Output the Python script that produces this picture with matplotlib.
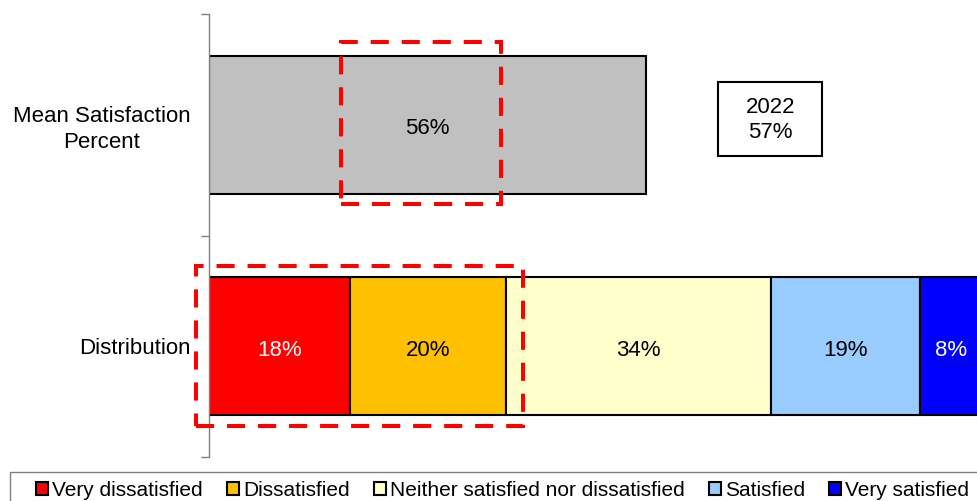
import matplotlib
matplotlib.use("Agg")
import matplotlib.pyplot as plt
from matplotlib.patches import Rectangle, Patch

plt.rcParams["font.family"] = ["Liberation Sans", "DejaVu Sans"]

# data
categories = ["Very dissatisfied", "Dissatisfied", "Neither satisfied nor dissatisfied",
              "Satisfied", "Very satisfied"]
dist_values = [18, 20, 34, 19, 8]
dist_colors = ["#FF0000", "#FFC000", "#FFFFCC", "#99CCFF", "#0000FF"]
dist_text = ["white", "black", "black", "black", "white"]
mean_value = 56
row_labels = ["Distribution", "Mean Satisfaction\nPercent"]
prior_year = "2022"
prior_value = 57

FS = 16
LFS = 15

W, H = 977, 501
fig = plt.figure(figsize=(W / 100, H / 100), dpi=100)
ax = fig.add_axes([209 / W, 44 / H, 781 / W, 443 / H])


def bar_label(x, y, s, color="black"):
    # labels sit a touch below the bar centre, as in the original
    ax.annotate(s, (x, y), xytext=(0, -3), textcoords="offset points",
                ha="center", va="center", fontsize=FS, color=color)


bar_h = 0.625
# mean bar
ax.barh(1.5, mean_value, height=bar_h, color="#C0C0C0", edgecolor="black", linewidth=1.5)
bar_label(mean_value / 2, 1.5, f"{mean_value}%")

# distribution bars
left = 0
for v, c, tc in zip(dist_values, dist_colors, dist_text):
    ax.barh(0.5, v, left=left, height=bar_h, color=c, edgecolor="black", linewidth=1.5)
    bar_label(left + v / 2, 0.5, f"{v}%", tc)
    left += v

ax.set_xlim(0, 100)
ax.set_ylim(0, 2)
ax.set_yticks([0, 1, 2])
ax.set_yticklabels([])
ax.set_yticks([0.5, 1.5], minor=True)
ax.set_yticklabels(row_labels, minor=True, fontsize=FS, multialignment="center",
                   linespacing=1.3)
ax.tick_params(axis="y", which="major", length=6, width=1, color="#808080", direction="out")
ax.tick_params(axis="y", which="minor", length=0, pad=13.5)
ax.set_xticks([])
for s in ["top", "right", "bottom"]:
    ax.spines[s].set_visible(False)
ax.spines["left"].set_color("#808080")
ax.spines["left"].set_linewidth(1)

# prior-year box
ax.add_patch(Rectangle((65.2, 1.357), 13.3, 0.335, facecolor="white", edgecolor="black",
                       linewidth=1.5, zorder=3))
ax.text(71.85, 1.52, f"{prior_year}\n{prior_value}%", ha="center", va="center",
        fontsize=FS, linespacing=1.25, zorder=4)

# red dashed highlight boxes
dash = dict(fill=False, edgecolor="#FF0000", linewidth=2.9, linestyle=(0, (4.5, 3.2)),
            clip_on=False, zorder=5)
ax.add_patch(Rectangle((16.9, 1.14), 20.5, 0.733, **dash))
ax.add_patch(Rectangle((-1.66, 0.14), 41.9, 0.724, **dash))

# legend frame (runs off the right edge) + legend entries
fig.add_artist(Rectangle((10 / W, -0.1), 1.0, 0.1 + 29 / H, transform=fig.transFigure,
                         fill=False, edgecolor="#808080", linewidth=1))
handles = [Patch(facecolor=c, edgecolor="black", linewidth=1.5) for c in dist_colors]
fig.legend(handles, categories, loc="center left", bbox_to_anchor=(36 / W, 1 - 490 / H),
           ncol=5, fontsize=LFS, frameon=False, handlelength=0.58, handleheight=0.58,
           handletextpad=0.2, columnspacing=1.15, borderpad=0, borderaxespad=0)

fig.savefig("out.png", dpi=100)
